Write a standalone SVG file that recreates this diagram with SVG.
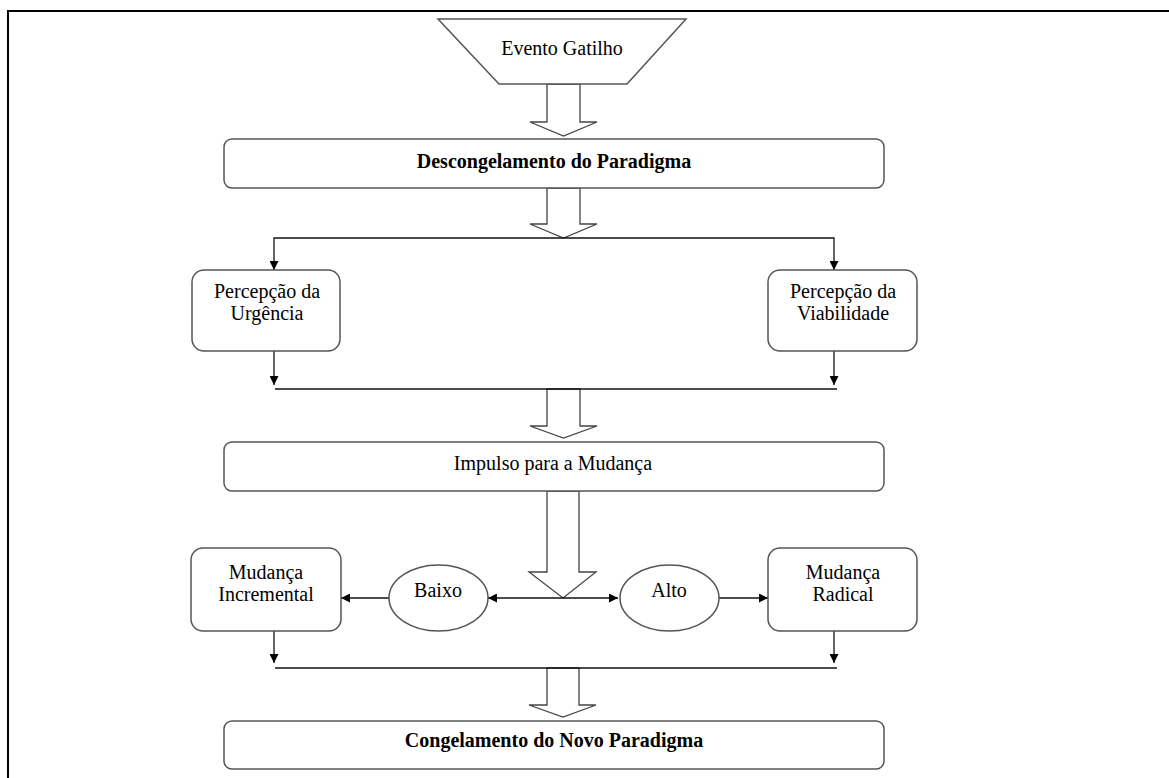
<svg xmlns="http://www.w3.org/2000/svg" width="1169" height="778" viewBox="0 0 1169 778">
  <defs>
    <style>
      .box { fill: #ffffff; stroke: #555555; stroke-width: 1.5; }
      .hollow { fill: #ffffff; stroke: #444444; stroke-width: 1.3; stroke-linejoin: miter; }
      .wire { fill: none; stroke: #111111; stroke-width: 1.3; }
      .lbl { font-family: "Liberation Serif", "Times New Roman", serif; font-size: 20px; fill: #000000; text-anchor: middle; }
      .bold { font-weight: bold; }
    </style>
    <marker id="head" viewBox="0 0 10 10" refX="10" refY="5" markerWidth="10" markerHeight="9" markerUnits="userSpaceOnUse" orient="auto">
      <path d="M0,0 L10,5 L0,10 Z" fill="#000000"/>
    </marker>
    <marker id="headStart" viewBox="0 0 10 10" refX="0" refY="5" markerWidth="10" markerHeight="9" markerUnits="userSpaceOnUse" orient="auto">
      <path d="M10,0 L0,5 L10,10 Z" fill="#000000"/>
    </marker>
  </defs>

  <rect x="0" y="0" width="1169" height="778" fill="#ffffff"/>

  <!-- outer frame: top rule and left rule -->
  <g id="frame">
    <line x1="8" y1="11" x2="1169" y2="11" stroke="#000000" stroke-width="2"/>
    <line x1="8" y1="10" x2="8" y2="778" stroke="#000000" stroke-width="2"/>
  </g>

  <!-- connectors -->
  <g id="connectors">
    <!-- block arrows -->
    <path class="hollow" d="M547,84 V122 H530 L563.5,136 L597,122 H580 V84 Z"/>
    <path class="hollow" d="M547,188 V224 H530 L563.5,238 L597,224 H580 V188 Z"/>
    <path class="hollow" d="M547,389 V426 H530 L563.5,438 L597,426 H580 V389 Z"/>
    <path class="hollow" d="M547,491 V572 H529 L563,598 L596,572 H579 V491 Z"/>
    <path class="hollow" d="M547,668 V705 H529 L563,717 L596,705 H579 V668 Z"/>

    <!-- split to the two perceptions -->
    <polyline class="wire" points="274,270 274,238 834,238 834,270" marker-start="url(#headStart)" marker-end="url(#head)"/>
    <!-- perceptions down to the join line -->
    <line class="wire" x1="274" y1="351" x2="274" y2="385" marker-end="url(#head)"/>
    <line class="wire" x1="834" y1="351" x2="834" y2="385" marker-end="url(#head)"/>
    <line class="wire" x1="275" y1="389" x2="837" y2="389"/>

    <!-- low / high branch -->
    <line class="wire" x1="488" y1="598" x2="618" y2="598" marker-start="url(#headStart)" marker-end="url(#head)"/>
    <line class="wire" x1="389" y1="598" x2="341" y2="598" marker-end="url(#head)"/>
    <line class="wire" x1="719" y1="598" x2="768" y2="598" marker-end="url(#head)"/>

    <!-- changes down to the join line -->
    <line class="wire" x1="274" y1="631" x2="274" y2="663" marker-end="url(#head)"/>
    <line class="wire" x1="834" y1="631" x2="834" y2="663" marker-end="url(#head)"/>
    <line class="wire" x1="275" y1="668" x2="837" y2="668"/>
  </g>

  <g id="evento-gatilho">
    <polygon class="box" points="438,19 686,19 627,84 499,84"/>
    <text class="lbl" x="562" y="55">Evento Gatilho</text>
  </g>

  <g id="descongelamento">
    <rect class="box" x="224" y="139" width="660" height="49" rx="8" ry="8"/>
    <text class="lbl bold" x="554" y="168">Descongelamento do Paradigma</text>
  </g>

  <g id="percepcao-urgencia">
    <rect class="box" x="192" y="270" width="148" height="81" rx="12" ry="12"/>
    <text class="lbl" x="267" y="298">Percepção da</text>
    <text class="lbl" x="267" y="320">Urgência</text>
  </g>

  <g id="percepcao-viabilidade">
    <rect class="box" x="768" y="270" width="149" height="81" rx="12" ry="12"/>
    <text class="lbl" x="843" y="298">Percepção da</text>
    <text class="lbl" x="843" y="320">Viabilidade</text>
  </g>

  <g id="impulso">
    <rect class="box" x="224" y="442" width="660" height="49" rx="8" ry="8"/>
    <text class="lbl" x="553" y="470">Impulso para a Mudança</text>
  </g>

  <g id="baixo">
    <ellipse class="box" cx="438.5" cy="598" rx="49.5" ry="33"/>
    <text class="lbl" x="438" y="597">Baixo</text>
  </g>

  <g id="alto">
    <ellipse class="box" cx="669.5" cy="598" rx="49.5" ry="33"/>
    <text class="lbl" x="669" y="597">Alto</text>
  </g>

  <g id="mudanca-incremental">
    <rect class="box" x="191" y="548" width="150" height="83" rx="12" ry="12"/>
    <text class="lbl" x="266" y="579">Mudança</text>
    <text class="lbl" x="266" y="601">Incremental</text>
  </g>

  <g id="mudanca-radical">
    <rect class="box" x="768" y="548" width="149" height="83" rx="12" ry="12"/>
    <text class="lbl" x="843" y="579">Mudança</text>
    <text class="lbl" x="843" y="601">Radical</text>
  </g>

  <g id="congelamento">
    <rect class="box" x="224" y="721" width="660" height="48" rx="8" ry="8"/>
    <text class="lbl bold" x="554" y="747">Congelamento do Novo Paradigma</text>
  </g>
</svg>
